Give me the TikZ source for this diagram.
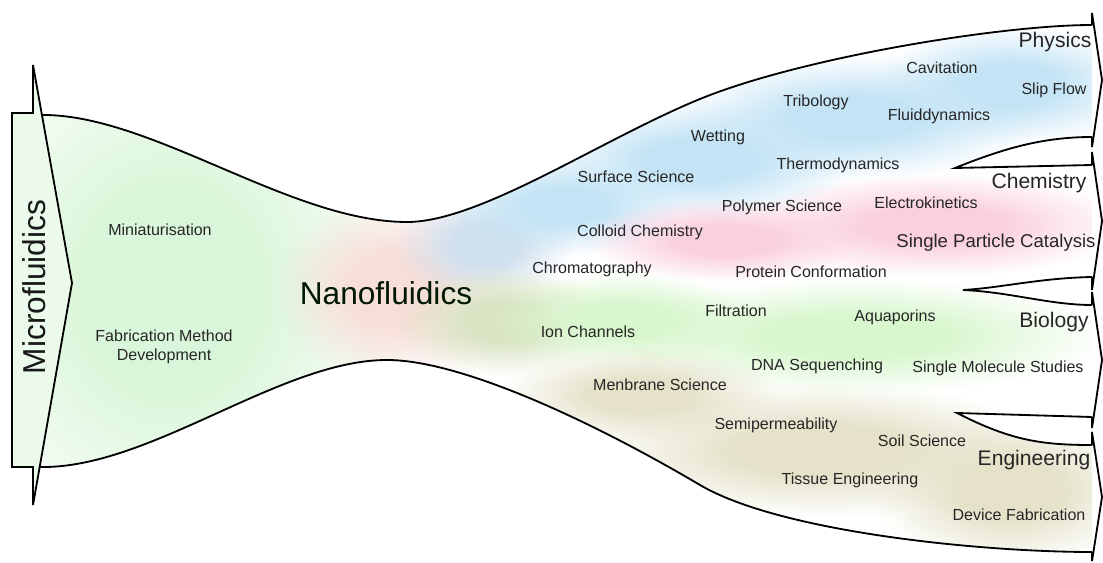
\documentclass[tikz,border=0pt]{standalone}
\usepackage{fontspec}
\setmainfont{Liberation Sans}
\usetikzlibrary{fadings}

\definecolor{microgreen}{RGB}{218,246,218}
\definecolor{nanopink}{RGB}{248,222,216}
\definecolor{greyblue}{RGB}{208,224,238}
\definecolor{olive}{RGB}{218,228,196}
\definecolor{physblue}{RGB}{196,228,245}
\definecolor{chempink}{RGB}{250,208,224}
\definecolor{biogreen}{RGB}{216,247,206}
\definecolor{engbeige}{RGB}{229,226,201}

% soft cloud: opaque core, fading out to the rim
\pgfdeclareradialshading{cloudshade}{\pgfpoint{0bp}{0bp}}{color(0bp)=(pgftransparent!0); color(9bp)=(pgftransparent!0); color(25bp)=(pgftransparent!100); color(50bp)=(pgftransparent!100)}
\pgfdeclarefading{softblob}{\pgfuseshading{cloudshade}}

\begin{document}
\begin{tikzpicture}[x=0.025cm,y=-0.025cm,
    outline/.style={line width=1.3pt,line join=miter},
    topic/.style={font=\fontsize{11.4}{13.5}\selectfont,text=black!85,align=center},
    field/.style={font=\fontsize{15}{18}\selectfont,text=black!85},
    big/.style={font=\fontsize{22.5}{26}\selectfont,text=black!90},
    blob/.style={fill=#1,path fading=softblob}]

    \useasboundingbox (0,0) rectangle (1103,563);

    % colour clouds inside the funnel
    \begin{scope}
        \clip (40,115) .. controls (150,113) and (290,222) .. (407,222)
            .. controls (480,222) and (600,140) .. (700,99)
            .. controls (800,58) and (1000,25) .. (1092,25)
            -- (1092,552)
            .. controls (980,552) and (780,532) .. (700,485)
            .. controls (590,420) and (460,360) .. (387,360)
            .. controls (280,360) and (150,469) .. (40,467) -- cycle;
        \fill[blob=microgreen] (170,290) ellipse [x radius=250,y radius=290];
        \fill[blob=nanopink] (395,290) ellipse [x radius=120,y radius=95];
        \fill[blob=greyblue] (485,245) ellipse [x radius=90,y radius=55];
        \fill[blob=olive] (505,322) ellipse [x radius=110,y radius=55];
        \fill[blob=physblue] (565,205) ellipse [x radius=120,y radius=50];
        \fill[blob=physblue] (700,160) ellipse [x radius=160,y radius=60];
        \fill[blob=physblue] (855,118) ellipse [x radius=180,y radius=62];
        \fill[blob=physblue] (1010,85) ellipse [x radius=140,y radius=60];
        \fill[blob=chempink] (725,240) ellipse [x radius=140,y radius=42];
        \fill[blob=chempink] (935,225) ellipse [x radius=195,y radius=52];
        \fill[blob=biogreen] (625,320) ellipse [x radius=135,y radius=48];
        \fill[blob=biogreen] (855,336) ellipse [x radius=255,y radius=58];
        \fill[blob=engbeige] (640,395) ellipse [x radius=140,y radius=48];
        \fill[blob=engbeige] (820,450) ellipse [x radius=235,y radius=68];
        \fill[blob=engbeige] (1010,490) ellipse [x radius=140,y radius=78];
    \end{scope}

    % funnel walls
    \draw[outline] (40,115) .. controls (150,113) and (290,222) .. (407,222)
        .. controls (480,222) and (600,140) .. (700,99)
        .. controls (800,58) and (1000,25) .. (1092,25);
    \draw[outline] (40,467) .. controls (150,469) and (280,360) .. (387,360)
        .. controls (460,360) and (590,420) .. (700,485)
        .. controls (780,532) and (980,552) .. (1092,552);

    % splits between the fields
    \fill[white] (1092,137) .. controls (1040,137) and (1000,150) .. (955,168) -- (1092,165) -- cycle;
    \draw[outline] (1092,137) .. controls (1040,137) and (1000,150) .. (955,168) -- (1092,165);
    \fill[white] (1092,277) .. controls (1040,278) and (1000,288) .. (963,290)
        .. controls (1010,292) and (1050,305) .. (1092,305) -- cycle;
    \draw[outline] (1092,277) .. controls (1040,278) and (1000,288) .. (963,290)
        .. controls (1010,292) and (1050,305) .. (1092,305);
    \fill[white] (1092,417) -- (957,413) .. controls (1010,440) and (1040,445) .. (1092,445) -- cycle;
    \draw[outline] (1092,417) -- (957,413) .. controls (1010,440) and (1040,445) .. (1092,445);

    % arrow heads on the right
    \draw[outline] (1092,25) -- (1092,13) -- (1102,80) -- (1092,147) -- (1092,137);
    \draw[outline] (1092,165) -- (1092,152) -- (1102,221) -- (1092,290) -- (1092,277);
    \draw[outline] (1092,305) -- (1092,292) -- (1102,360) -- (1092,428) -- (1092,417);
    \draw[outline] (1092,445) -- (1092,432) -- (1102,497) -- (1092,561) -- (1092,552);

    % arrow on the left
    \filldraw[outline,fill=microgreen!55] (12,113) -- (33,113) -- (33,65) -- (72,283)
        -- (33,505) -- (33,467) -- (12,467) -- cycle;

    \node[big,rotate=90] (micro) at (34,287) {Microfluidics};
    \node[big,text=black!85!green!60!black] (nano) at (386,293) {Nanofluidics};

    \node[topic] (mini) at (160,230) {Miniaturisation};
    \node[topic] (fabr) at (164,347) {Fabrication Method\\Development};

    \node[field] (phys) at (1055,42) {Physics};
    \node[field] (chem) at (1039,183) {Chemistry};
    \node[field] (bio) at (1054,322) {Biology};
    \node[field] (eng) at (1034,460) {Engineering};
    \node[topic,font=\fontsize{13.2}{15}\selectfont] (spc) at (996,243) {Single Particle Catalysis};

    \node[topic] (cavi) at (942,68) {Cavitation};
    \node[topic] (slip) at (1054,90) {Slip Flow};
    \node[topic] (flui) at (939,116) {Fluiddynamics};
    \node[topic] (trib) at (816,102) {Tribology};
    \node[topic] (wett) at (718,137) {Wetting};
    \node[topic] (ther) at (838,165) {Thermodynamics};
    \node[topic] (surf) at (636,177) {Surface Science};
    \node[topic] (poly) at (782,207) {Polymer Science};
    \node[topic] (elec) at (926,203) {Electrokinetics};
    \node[topic] (coll) at (640,232) {Colloid Chemistry};
    \node[topic] (chro) at (592,269) {Chromatography};
    \node[topic] (prot) at (811,272) {Protein Conformation};
    \node[topic] (filt) at (736,311) {Filtration};
    \node[topic] (aqua) at (895,317) {Aquaporins};
    \node[topic] (ionc) at (588,332) {Ion Channels};
    \node[topic] (dnas) at (817,366) {DNA Sequenching};
    \node[topic] (smol) at (998,368) {Single Molecule Studies};
    \node[topic] (memb) at (660,385) {Menbrane Science};
    \node[topic] (semi) at (776,425) {Semipermeability};
    \node[topic] (soil) at (922,441) {Soil Science};
    \node[topic] (tiss) at (850,480) {Tissue Engineering};
    \node[topic] (devi) at (1019,515) {Device Fabrication};
\end{tikzpicture}
\end{document}
